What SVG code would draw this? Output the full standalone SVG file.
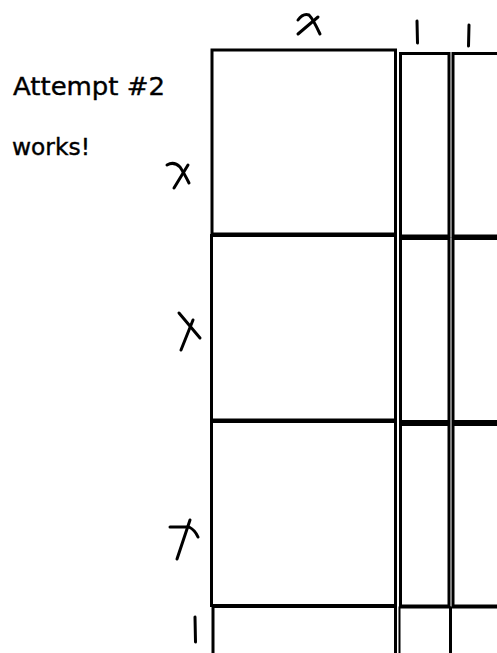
<svg xmlns="http://www.w3.org/2000/svg" width="497" height="653" viewBox="0 0 497 653">
  <style>
    .box { fill: none; stroke: #000; stroke-width: 3; }
    .mark { fill: none; stroke: #000; stroke-width: 3; stroke-linecap: round; stroke-linejoin: round; }
    .note { font-family: "DejaVu Sans", "Noto Sans", sans-serif; fill: #000; stroke: #000; stroke-width: 0.4; }
  </style>
  <rect width="497" height="653" fill="#fff"/>
  <g id="notes">
    <text class="note" x="13" y="95" font-size="25" textLength="152" lengthAdjust="spacingAndGlyphs">Attempt #2</text>
    <text class="note" x="12" y="155" font-size="23" textLength="78" lengthAdjust="spacingAndGlyphs">works!</text>
  </g>
  <g id="column-x">
    <rect id="a1" class="box" x="212" y="50" width="183.5" height="184"/>
    <rect id="a2" class="box" x="211.5" y="235.5" width="184" height="184.5"/>
    <rect id="a3" class="box" x="211.5" y="421.5" width="184" height="184"/>
    <rect id="a4" class="box" x="213" y="606.5" width="182.5" height="60"/>
  </g>
  <g id="column-1a">
    <rect id="b1" class="box" x="400.5" y="53.5" width="48.5" height="182.5"/>
    <rect id="b2" class="box" x="400.5" y="238.5" width="48.5" height="183"/>
    <rect id="b3" class="box" x="400.5" y="424.5" width="48.5" height="181.5"/>
    <rect id="b4" class="box" x="399.5" y="607.5" width="50.5" height="60" style="stroke-width:2"/>
  </g>
  <g id="column-1b">
    <rect id="c1" class="box" x="453" y="53.5" width="60" height="182.5"/>
    <rect id="c2" class="box" x="453" y="238.5" width="60" height="183"/>
    <rect id="c3" class="box" x="453" y="424.5" width="60" height="181.5"/>
    <rect id="c4" class="box" x="451" y="607.5" width="60" height="60" style="stroke-width:2"/>
  </g>
  <g id="labels">
    <g id="label-top-x">
      <path class="mark" d="M298 20 Q303 13 309 15 Q313 19 320 34"/>
      <path class="mark" d="M318 17 L298 34"/>
    </g>
    <path id="label-top-1a" class="mark" d="M417 21 L417.5 43"/>
    <path id="label-top-1b" class="mark" d="M469 25 L468.5 46"/>
    <g id="label-row1-x">
      <path class="mark" d="M167 165 Q174 161 180 167 Q184 173 189 183"/>
      <path class="mark" d="M188 165 L174 188"/>
    </g>
    <g id="label-row2-x">
      <path class="mark" d="M179 313 L200 338"/>
      <path class="mark" d="M193 320 L181 350"/>
    </g>
    <g id="label-row3-x">
      <path class="mark" d="M170 527 L189 527 Q195 530 198 537"/>
      <path class="mark" d="M190 520 L177 559"/>
    </g>
    <path id="label-bottom-1" class="mark" d="M195 617 L195.5 642"/>
  </g>
</svg>
